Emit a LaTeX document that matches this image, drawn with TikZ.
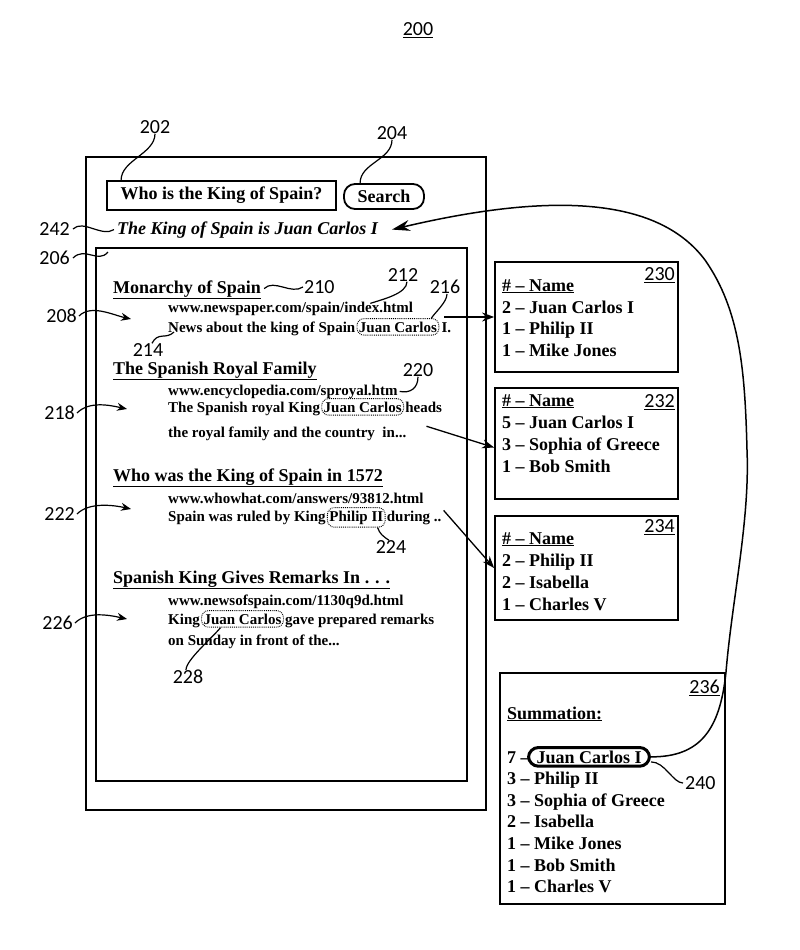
\documentclass[tikz,border=0pt]{standalone}
\usepackage{fontspec}
\setmainfont{Liberation Serif}
\newfontfamily\labfont{Carlito}
\usetikzlibrary{arrows.meta}
\begin{document}
\begin{tikzpicture}[x=1pt,y=-1pt,
  box/.style={draw,line width=1.8pt,inner sep=0pt},
  txt/.style={inner sep=0pt,anchor=base west,font=\fontsize{18}{20}\selectfont\bfseries},
  sml/.style={inner sep=0pt,anchor=base west,font=\fontsize{15}{17}\selectfont\bfseries},
  lab/.style={inner sep=0pt,font=\fontsize{20}{22}\selectfont\labfont},
  dbox/.style={draw,densely dotted,line width=0.9pt,rounded corners=7pt,inner xsep=2pt,inner ysep=3pt,anchor=base west,font=\fontsize{15}{17}\selectfont\bfseries},
  leader/.style={line width=1.2pt},
  larrow/.style={line width=1.2pt,-{Stealth[length=10pt,width=8pt]}},
  conn/.style={line width=1.3pt,-{Stealth[length=12pt,width=9pt]}},
]
\useasboundingbox (0,0) rectangle (800,950);

\node[lab] (l200) at (418,30) {\underline{200}};

% outer and inner frames
\node[box,minimum width=400pt,minimum height=653pt] (outer) at (286,483.5) {};
\node[box,minimum width=371pt,minimum height=533pt] (inner) at (281.5,514.5) {};

% query and search
\node[box,minimum width=229pt,minimum height=29pt,font=\fontsize{18}{20}\selectfont\bfseries] (q) at (221.5,195.5) {Who is the King of Spain?};
\node[box,rounded corners=11pt,minimum width=80pt,minimum height=25pt,font=\fontsize{18}{20}\selectfont\bfseries] (srch) at (384,196.5) {Search};

\node[lab] (l202) at (155,127) {202};
\draw[leader] (l202.south) .. controls +(0,20) and +(0,-20) .. ([xshift=15pt]q.north west);
\node[lab] (l204) at (392,133) {204};
\draw[leader] (l204.south) .. controls +(0,20) and +(0,-20) .. ([xshift=17pt]srch.north west);

% answer
\node[inner sep=0pt,anchor=base west,font=\fontsize{18}{20}\selectfont\bfseries\itshape] (ans) at (117,234) {The King of Spain is Juan Carlos I};
\node[lab,anchor=east] (l242) at (70,229) {242};
\draw[leader] ([xshift=3pt]l242.east) .. controls +(10,-10) and +(-12,8) .. ([xshift=-3pt]ans.west);
\node[lab,anchor=east] (l206) at (70,258) {206};
\coordinate (e206) at (108,252);
\draw[leader] ([xshift=3pt]l206.east) .. controls +(12,-12) and +(-10,12) .. (e206);

% result 1
\node[txt] (t1) at (113,293) {\underline{Monarchy of Spain}};
\node[lab,anchor=west] (l210) at (304,287) {210};
\draw[leader] ([xshift=3pt,yshift=1pt]t1.east) .. controls +(10,-10) and +(-12,8) .. ([xshift=-1pt]l210.west);
\node[sml] (u1) at (168,312) {www.newspaper.com/spain/index.html};
\node[sml] (s1a) at (168,332) {News about the king of Spain};
\node[dbox] (d1) at ([xshift=1pt]s1a.base east) {Juan Carlos};
\node[sml] (s1b) at ([xshift=2pt]d1.base east) {I.};
\node[lab] (l212) at (403,275) {212};
\draw[leader] ([xshift=4pt]l212.south) .. controls +(0,12) and +(12,-4) .. ([xshift=-43pt,yshift=-2pt]u1.north east);
\node[lab] (l216) at (445,287) {216};
\draw[leader] ([xshift=2pt]l216.south) .. controls +(0,8) and +(4,-6) .. ([xshift=-8pt]d1.north east);
\node[lab] (l214) at (148,350) {214};
\draw[leader] ([xshift=4pt]l214.north) .. controls +(6,-12) and +(-8,8) .. ([xshift=6pt]s1a.base west);
\node[lab,anchor=east] (l208) at (77,316) {208};
\coordinate (e208) at (131,319);
\draw[larrow] ([xshift=2pt]l208.east) .. controls +(12,-12) and +(-18,-4) .. (e208);

% result 2
\node[txt] (t2) at (113,374) {\underline{The Spanish Royal Family}};
\node[sml] (u2) at (168,395) {www.encyclopedia.com/sproyal.htm};
\node[sml] (s2a) at (168,412) {The Spanish royal King};
\node[dbox] (d2) at ([xshift=1pt]s2a.base east) {Juan Carlos};
\node[sml] (s2b) at ([xshift=1pt]d2.base east) {heads};
\node[sml] (s2c) at (168,437) {the royal family and the country\ \ in...};
\node[lab] (l220) at (418,370) {220};
\draw[leader] (l220.south) .. controls +(0,12) and +(10,2) .. ([xshift=2pt]u2.east);
\node[lab,anchor=east] (l218) at (75,413) {218};
\coordinate (e218) at (127,409);
\draw[larrow] ([xshift=2pt]l218.east) .. controls +(12,-12) and +(-18,-4) .. (e218);

% result 3
\node[txt] (t3) at (113,481) {\underline{Who was the King of Spain in 1572}};
\node[sml] (u3) at (168,503) {www.whowhat.com/answers/93812.html};
\node[sml] (s3a) at (168,521) {Spain was ruled by King};
\node[dbox] (d3) at ([xshift=1pt]s3a.base east) {Philip II};
\node[sml] (s3b) at ([xshift=1pt]d3.base east) {during ..};
\node[lab] (l224) at (391,547) {224};
\draw[leader] ([xshift=-8pt]d3.south east) .. controls +(2,6) and +(-6,-4) .. ([xshift=-2pt]l224.north);
\node[lab,anchor=east] (l222) at (75,514) {222};
\coordinate (e222) at (131,509);
\draw[larrow] ([xshift=2pt]l222.east) .. controls +(12,-12) and +(-18,-4) .. (e222);

% result 4
\node[txt] (t4) at (113,583) {\underline{Spanish King Gives Remarks In . . .}};
\node[sml] (u4) at (168,605) {www.newsofspain.com/1130q9d.html};
\node[sml] (s4a) at (168,624) {King};
\node[dbox] (d4) at ([xshift=1pt]s4a.base east) {Juan Carlos};
\node[sml] (s4b) at ([xshift=1pt]d4.base east) {gave prepared remarks};
\node[sml] (s4c) at (168,645) {on Sunday in front of the...};
\node[lab] (l228) at (188,677) {228};
\draw[leader] ([xshift=-2pt]l228.north) .. controls +(0,-10) and +(-8,10) .. ([xshift=-22pt]d4.south);
\node[lab,anchor=east] (l226) at (73,623) {226};
\coordinate (e226) at (127,619);
\draw[larrow] ([xshift=2pt]l226.east) .. controls +(12,-12) and +(-18,-4) .. (e226);

% box 230
\node[box,minimum width=183pt,minimum height=110pt] (b230) at (586.5,317) {};
\node[lab,anchor=east] (l230) at (675,275) {\underline{230}};
\node[txt] (b230h) at (502,291) {\underline{\# -- Name}};
\node[txt] (b230a) at (502,313) {2 -- Juan Carlos I};
\node[txt] (b230b) at (502,334.5) {1 -- Philip II};
\node[txt] (b230c) at (502,356) {1 -- Mike Jones};

% box 232
\node[box,minimum width=183pt,minimum height=111pt] (b232) at (586.5,443.5) {};
\node[lab,anchor=east] (l232) at (675,402) {\underline{232}};
\node[txt] (b232h) at (502,406) {\underline{\# -- Name}};
\node[txt] (b232a) at (502,428) {5 -- Juan Carlos I};
\node[txt] (b232b) at (502,450) {3 -- Sophia of Greece};
\node[txt] (b232c) at (502,472) {1 -- Bob Smith};

% box 234
\node[box,minimum width=183pt,minimum height=104pt] (b234) at (586.5,568) {};
\node[lab,anchor=east] (l234) at (675,527) {\underline{234}};
\node[txt] (b234h) at (502,544) {\underline{\# -- Name}};
\node[txt] (b234a) at (502,566) {2 -- Philip II};
\node[txt] (b234b) at (502,588) {2 -- Isabella};
\node[txt] (b234c) at (502,610) {1 -- Charles V};

% box 236
\node[box,minimum width=225pt,minimum height=231pt] (b236) at (612.5,788.5) {};
\node[lab,anchor=east] (l236) at (720,688) {\underline{236}};
\node[txt] (sumh) at (507,719) {\underline{Summation:}};
\node[txt] (s7) at (507,763) {7 --};
\node[draw,line width=3pt,rounded corners=10pt,inner xsep=8pt,inner ysep=3pt,anchor=base west,font=\fontsize{18}{20}\selectfont\bfseries] (jc) at (527,763) {Juan Carlos I};
\node[txt] (sa) at (507,784.4) {3 -- Philip II};
\node[txt] (sb) at (507,806.1) {3 -- Sophia of Greece};
\node[txt] (sc) at (507,827.8) {2 -- Isabella};
\node[txt] (sd) at (507,849.5) {1 -- Mike Jones};
\node[txt] (se) at (507,871.2) {1 -- Bob Smith};
\node[txt] (sf) at (507,892.9) {1 -- Charles V};
\node[lab,anchor=west] (l240) at (685,783) {240};
\draw[leader] ([yshift=-5pt]jc.east) .. controls +(14,0) and +(-10,0) .. ([xshift=-2pt]l240.west);

% connectors
\coordinate (a1) at ([xshift=5pt]d1.north east);
\draw[conn] (a1 |- b230.west) -- (b230.west);
\coordinate (a2) at ([xshift=20pt]s2c.north east);
\draw[conn] (a2) -- ([yshift=-4pt]b232.west);
\coordinate (a3) at ([xshift=2pt]s3b.north east);
\draw[conn] (a3) -- (b234.west);

\draw[line width=1.5pt,-{Stealth[length=18pt,width=11pt]}] (jc.east)
  .. controls (700,757) and (720,730) .. (726,672)
  .. controls (732,600) and (750,520) .. (747,450)
  .. controls (745,370) and (740,310) .. (705,260)
  .. controls (660,200) and (560,190) .. ([xshift=14pt]ans.east);
\end{tikzpicture}
\end{document}
